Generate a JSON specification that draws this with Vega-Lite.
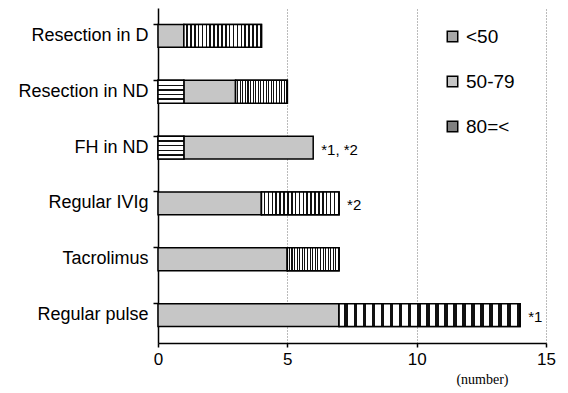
{
  "$schema": "https://vega.github.io/schema/vega-lite/v6.json",
  "width": 388,
  "height": 335,
  "autosize": "none",
  "padding": {"left": 158, "top": 8, "right": 22, "bottom": 50},
  "background": "white",
  "config": {
    "view": {"stroke": null},
    "font": "Liberation Sans"
  },
  "datasets": {
    "bars": [
      {"item": "Resection in D", "group": "50-79", "level": 2, "count": 1},
      {"item": "Resection in D", "group": "80=<", "level": 3, "count": 3},
      {"item": "Resection in ND", "group": "<50", "level": 1, "count": 1},
      {"item": "Resection in ND", "group": "50-79", "level": 2, "count": 2},
      {"item": "Resection in ND", "group": "80=<", "level": 3, "count": 2},
      {"item": "FH in ND", "group": "<50", "level": 1, "count": 1},
      {"item": "FH in ND", "group": "50-79", "level": 2, "count": 5},
      {"item": "Regular IVIg", "group": "50-79", "level": 2, "count": 4},
      {"item": "Regular IVIg", "group": "80=<", "level": 3, "count": 3},
      {"item": "Tacrolimus", "group": "50-79", "level": 2, "count": 5},
      {"item": "Tacrolimus", "group": "80=<", "level": 3, "count": 2},
      {"item": "Regular pulse", "group": "50-79", "level": 2, "count": 7},
      {"item": "Regular pulse", "group": "80=<", "level": 3, "count": 7}
    ],
    "notes": [
      {"item": "FH in ND", "total": 6, "note": "*1, *2"},
      {"item": "Regular IVIg", "total": 7, "note": "*2"},
      {"item": "Regular pulse", "total": 14, "note": "*1"}
    ]
  },
  "layer": [
    {
      "data": {"name": "bars"},
      "mark": {"type": "bar", "stroke": "black", "strokeWidth": 1.5},
      "encoding": {
        "y": {
          "field": "item",
          "type": "nominal",
          "sort": ["Resection in D", "Resection in ND", "FH in ND", "Regular IVIg", "Tacrolimus", "Regular pulse"],
          "title": null,
          "scale": {"paddingInner": 0.59, "paddingOuter": 0.295},
          "axis": {
            "title": null,
            "labelFontSize": 18,
            "labelColor": "black",
            "labelPadding": 5,
            "domainColor": "black",
            "domainWidth": 1.5,
            "tickColor": "black",
            "tickSize": 5,
            "tickWidth": 1.5,
            "bandPosition": 0
          }
        },
        "x": {
          "field": "count",
          "type": "quantitative",
          "stack": "zero",
          "title": "(number)",
          "scale": {"domain": [0, 15], "nice": false},
          "axis": {
            "values": [0, 5, 10, 15],
            "title": "(number)",
            "titleFont": "Liberation Serif",
            "titleFontWeight": "normal",
            "titleFontSize": 14,
            "titleColor": "black",
            "titleAnchor": "end",
            "titleAlign": "right",
            "titleBaseline": "middle",
            "titleX": 350,
            "titleY": 36,
            "labelFontSize": 17,
            "labelFlush": false,
            "labelColor": "black",
            "labelPadding": 4,
            "domainColor": "black",
            "domainWidth": 1.5,
            "tickColor": "black",
            "tickSize": 4,
            "tickWidth": 1.5,
            "grid": true,
            "gridColor": "#777",
            "gridDash": [1, 2],
            "gridWidth": 1
          }
        },
        "order": {"field": "level", "type": "quantitative"},
        "color": {
          "field": "group",
          "type": "nominal",
          "scale": {
            "domain": ["<50", "50-79", "80=<"],
            "range": ["#a8a8a8", "#c6c6c6", "#808080"]
          },
          "legend": {
            "title": null,
            "orient": "none",
            "legendX": 285,
            "legendY": 19,
            "symbolType": "square",
            "symbolSize": 110,
            "symbolStrokeColor": "black",
            "symbolStrokeWidth": 1.5,
            "labelFontSize": 19,
            "labelColor": "black",
            "labelOffset": 4,
            "rowPadding": 25
          }
        }
      }
    },
    {
      "data": {"name": "bars"},
      "transform": [
        {"stack": "count", "groupby": ["item"], "sort": [{"field": "level"}], "as": ["x0", "x1"]},
        {"filter": "datum.group === '<50'"}
      ],
      "mark": {
        "type": "bar", "stroke": "black", "strokeWidth": 1.5,
        "color": {"gradient": "linear", "x1": 0, "y1": 0, "x2": 0, "y2": 1, "stops": [
          {"offset": 0, "color": "#fff"},
          {"offset": 0.19, "color": "#fff"},
          {"offset": 0.19, "color": "#111"},
          {"offset": 0.25, "color": "#111"},
          {"offset": 0.25, "color": "#fff"},
          {"offset": 0.39, "color": "#fff"},
          {"offset": 0.39, "color": "#111"},
          {"offset": 0.45, "color": "#111"},
          {"offset": 0.45, "color": "#fff"},
          {"offset": 0.59, "color": "#fff"},
          {"offset": 0.59, "color": "#111"},
          {"offset": 0.65, "color": "#111"},
          {"offset": 0.65, "color": "#fff"},
          {"offset": 0.79, "color": "#fff"},
          {"offset": 0.79, "color": "#111"},
          {"offset": 0.85, "color": "#111"},
          {"offset": 0.85, "color": "#fff"},
          {"offset": 1, "color": "#fff"}
        ]}
      },
      "encoding": {
        "y": {"field": "item", "type": "nominal", "title": null, "sort": ["Resection in D", "Resection in ND", "FH in ND", "Regular IVIg", "Tacrolimus", "Regular pulse"]},
        "x": {"field": "x0", "type": "quantitative", "title": "(number)", "scale": {"domain": [0, 15], "nice": false}},
        "x2": {"field": "x1"}
      }
    },
    {
      "data": {"name": "bars"},
      "transform": [
        {"stack": "count", "groupby": ["item"], "sort": [{"field": "level"}], "as": ["x0", "x1"]},
        {"filter": "datum.group === '80=<'"}
      ],
      "mark": {
        "type": "bar", "stroke": "black", "strokeWidth": 1.5,
        "color": {"gradient": "linear", "x1": 0, "y1": 0, "x2": 1, "y2": 0, "stops": [
          {"offset": 0, "color": "#fff"},
          {"offset": 0.03, "color": "#fff"}, {"offset": 0.03, "color": "#111"}, {"offset": 0.05, "color": "#111"}, {"offset": 0.05, "color": "#fff"},
          {"offset": 0.08, "color": "#fff"}, {"offset": 0.08, "color": "#111"}, {"offset": 0.10, "color": "#111"}, {"offset": 0.10, "color": "#fff"},
          {"offset": 0.13, "color": "#fff"}, {"offset": 0.13, "color": "#111"}, {"offset": 0.15, "color": "#111"}, {"offset": 0.15, "color": "#fff"},
          {"offset": 0.18, "color": "#fff"}, {"offset": 0.18, "color": "#111"}, {"offset": 0.20, "color": "#111"}, {"offset": 0.20, "color": "#fff"},
          {"offset": 0.23, "color": "#fff"}, {"offset": 0.23, "color": "#111"}, {"offset": 0.25, "color": "#111"}, {"offset": 0.25, "color": "#fff"},
          {"offset": 0.28, "color": "#fff"}, {"offset": 0.28, "color": "#111"}, {"offset": 0.30, "color": "#111"}, {"offset": 0.30, "color": "#fff"},
          {"offset": 0.33, "color": "#fff"}, {"offset": 0.33, "color": "#111"}, {"offset": 0.35, "color": "#111"}, {"offset": 0.35, "color": "#fff"},
          {"offset": 0.38, "color": "#fff"}, {"offset": 0.38, "color": "#111"}, {"offset": 0.40, "color": "#111"}, {"offset": 0.40, "color": "#fff"},
          {"offset": 0.43, "color": "#fff"}, {"offset": 0.43, "color": "#111"}, {"offset": 0.45, "color": "#111"}, {"offset": 0.45, "color": "#fff"},
          {"offset": 0.48, "color": "#fff"}, {"offset": 0.48, "color": "#111"}, {"offset": 0.50, "color": "#111"}, {"offset": 0.50, "color": "#fff"},
          {"offset": 0.53, "color": "#fff"}, {"offset": 0.53, "color": "#111"}, {"offset": 0.55, "color": "#111"}, {"offset": 0.55, "color": "#fff"},
          {"offset": 0.58, "color": "#fff"}, {"offset": 0.58, "color": "#111"}, {"offset": 0.60, "color": "#111"}, {"offset": 0.60, "color": "#fff"},
          {"offset": 0.63, "color": "#fff"}, {"offset": 0.63, "color": "#111"}, {"offset": 0.65, "color": "#111"}, {"offset": 0.65, "color": "#fff"},
          {"offset": 0.68, "color": "#fff"}, {"offset": 0.68, "color": "#111"}, {"offset": 0.70, "color": "#111"}, {"offset": 0.70, "color": "#fff"},
          {"offset": 0.73, "color": "#fff"}, {"offset": 0.73, "color": "#111"}, {"offset": 0.75, "color": "#111"}, {"offset": 0.75, "color": "#fff"},
          {"offset": 0.78, "color": "#fff"}, {"offset": 0.78, "color": "#111"}, {"offset": 0.80, "color": "#111"}, {"offset": 0.80, "color": "#fff"},
          {"offset": 0.83, "color": "#fff"}, {"offset": 0.83, "color": "#111"}, {"offset": 0.85, "color": "#111"}, {"offset": 0.85, "color": "#fff"},
          {"offset": 0.88, "color": "#fff"}, {"offset": 0.88, "color": "#111"}, {"offset": 0.90, "color": "#111"}, {"offset": 0.90, "color": "#fff"},
          {"offset": 0.93, "color": "#fff"}, {"offset": 0.93, "color": "#111"}, {"offset": 0.95, "color": "#111"}, {"offset": 0.95, "color": "#fff"},
          {"offset": 0.98, "color": "#fff"}, {"offset": 0.98, "color": "#111"}, {"offset": 1, "color": "#111"}
        ]}
      },
      "encoding": {
        "y": {"field": "item", "type": "nominal", "title": null, "sort": ["Resection in D", "Resection in ND", "FH in ND", "Regular IVIg", "Tacrolimus", "Regular pulse"]},
        "x": {"field": "x0", "type": "quantitative", "title": "(number)", "scale": {"domain": [0, 15], "nice": false}},
        "x2": {"field": "x1"}
      }
    },
    {
      "data": {"name": "notes"},
      "mark": {"type": "text", "align": "left", "baseline": "middle", "dx": 8, "dy": 2, "fontSize": 15, "color": "black"},
      "encoding": {
        "y": {"field": "item", "type": "nominal", "title": null, "sort": ["Resection in D", "Resection in ND", "FH in ND", "Regular IVIg", "Tacrolimus", "Regular pulse"]},
        "x": {"field": "total", "type": "quantitative", "title": "(number)", "scale": {"domain": [0, 15], "nice": false}},
        "text": {"field": "note"}
      }
    }
  ]
}
